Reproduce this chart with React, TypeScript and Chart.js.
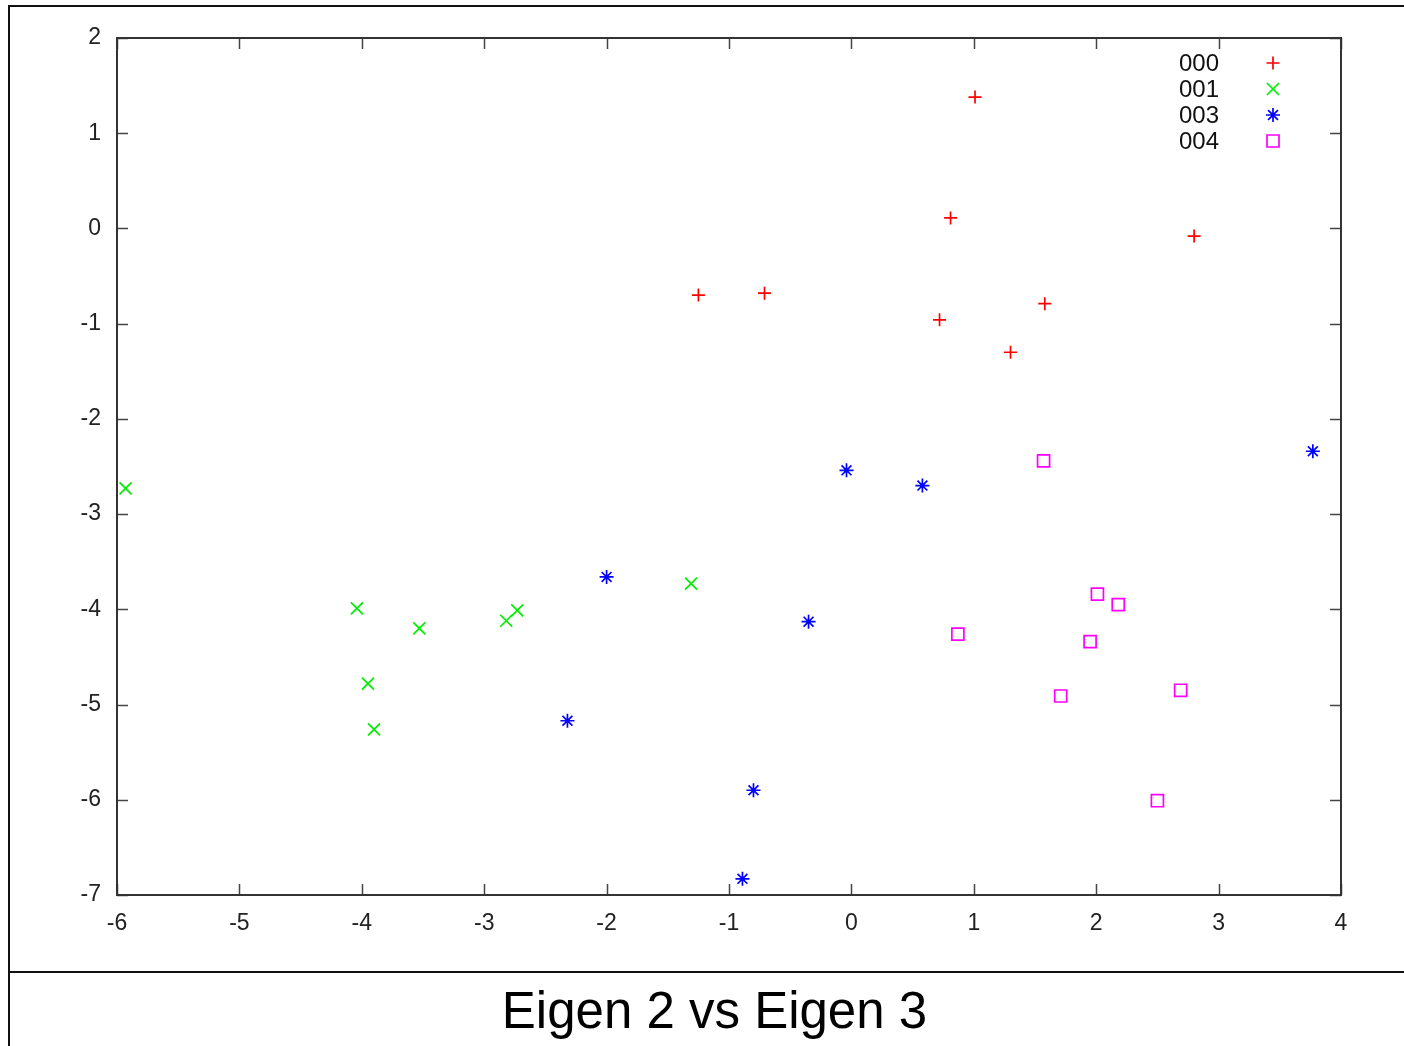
import React, { useEffect, useRef } from 'react';
import { Chart, registerables } from 'chart.js';
import { drawPoint } from 'chart.js/helpers';

Chart.register(...registerables);

const SERIES_LABELS = ['000', '001', '003', '004'];
const s000X = [1.01, 0.81, 2.8, -1.25, -0.71, 0.72, 1.58, 1.3];
const s000Y = [1.38, 0.11, -0.08, -0.7, -0.68, -0.96, -0.79, -1.3];
const s001X = [-5.93, -4.04, -3.95, -3.9, -3.53, -2.82, -2.73, -1.31];
const s001Y = [-2.73, -3.99, -4.78, -5.26, -4.2, -4.12, -4.01, -3.73];
const s003X = [3.77, -0.04, 0.58, -2.0, -0.35, -2.32, -0.8, -0.89];
const s003Y = [-2.34, -2.54, -2.7, -3.66, -4.13, -5.17, -5.9, -6.83];
const s004X = [1.57, 2.01, 2.18, 0.87, 1.95, 1.71, 2.69, 2.5];
const s004Y = [-2.44, -3.84, -3.95, -4.26, -4.34, -4.91, -4.85, -6.01];
const X_TICKS = [-6, -5, -4, -3, -2, -1, 0, 1, 2, 3, 4];
const Y_TICKS = [-7, -6, -5, -4, -3, -2, -1, 0, 1, 2];
const TITLE = 'Eigen 2 vs Eigen 3';

const COLORS = ['#ff0000', '#00ee00', '#0000ff', '#ff00ff'];
const STYLES = ['cross', 'crossRot', 'star', 'rect'];
const RADII = [6.5, 8.5, 7, 8.5];

const toPts = (xs: number[], ys: number[]) => xs.map((x, i) => ({ x, y: ys[i] }));

const framePlugin = {
  id: 'gnuplotFrame',
  afterDraw(chart: any) {
    const { ctx, chartArea, scales } = chart;
    const { left, right, top, bottom } = chartArea;
    ctx.save();
    ctx.strokeStyle = '#444';
    ctx.lineWidth = 1.5;
    const tl = 11;
    ctx.beginPath();
    X_TICKS.forEach((v) => {
      const px = Math.round(scales.x.getPixelForValue(v)) + 0.5;
      ctx.moveTo(px, bottom);
      ctx.lineTo(px, bottom - tl);
      ctx.moveTo(px, top);
      ctx.lineTo(px, top + tl);
    });
    Y_TICKS.forEach((v) => {
      const py = Math.round(scales.y.getPixelForValue(v)) + 0.5;
      ctx.moveTo(left, py);
      ctx.lineTo(left + tl, py);
      ctx.moveTo(right, py);
      ctx.lineTo(right - tl, py);
    });
    ctx.stroke();
    ctx.strokeStyle = '#333';
    ctx.lineWidth = 2;
    ctx.strokeRect(left, top, right - left, bottom - top);
    ctx.font = '24px "Liberation Sans", Arial, sans-serif';
    ctx.textAlign = 'right';
    ctx.textBaseline = 'middle';
    chart.data.datasets.forEach((ds: any, i: number) => {
      const y = 63 + 26 * i;
      ctx.fillStyle = '#111';
      ctx.fillText(ds.label, 1219, y + 1);
      ctx.strokeStyle = ds.borderColor;
      ctx.fillStyle = 'rgba(0,0,0,0)';
      ctx.lineWidth = ds.pointBorderWidth;
      drawPoint(ctx, { pointStyle: ds.pointStyle, radius: ds.pointRadius, borderWidth: ds.pointBorderWidth, rotation: 0 }, 1273, y);
    });
    ctx.restore();
  },
};

export default function App() {
  const ref = useRef<HTMLCanvasElement | null>(null);
  useEffect(() => {
    if (!ref.current) return;
    const series = [toPts(s000X, s000Y), toPts(s001X, s001Y), toPts(s003X, s003Y), toPts(s004X, s004Y)];
    const tickFont = { family: '"Liberation Sans", Arial, sans-serif', size: 23 };
    const chart = new Chart(ref.current, {
      type: 'scatter',
      data: {
        datasets: series.map((data, i) => ({
          label: SERIES_LABELS[i],
          data,
          borderColor: COLORS[i],
          backgroundColor: 'rgba(0,0,0,0)',
          pointStyle: STYLES[i] as any,
          pointRadius: RADII[i],
          pointBorderWidth: 1.7,
          pointBackgroundColor: 'rgba(0,0,0,0)',
          pointBorderColor: COLORS[i],
        })),
      },
      options: {
        animation: false,
        responsive: false,
        events: [],
        layout: { padding: { top: 38, right: 63, left: 0, bottom: 0 } },
        plugins: { legend: { display: false }, tooltip: { enabled: false }, title: { display: false } },
        scales: {
          x: {
            type: 'linear',
            min: -6,
            max: 4,
            afterBuildTicks: (s: any) => { s.ticks = X_TICKS.map((v) => ({ value: v })); },
            afterFit: (s: any) => { s.height = 73; },
            grid: { display: false, drawTicks: false },
            border: { display: false },
            ticks: { font: tickFont, color: '#222', padding: 15, maxRotation: 0, autoSkip: false, callback: (v: any) => String(v) },
          },
          y: {
            type: 'linear',
            min: -7,
            max: 2,
            afterBuildTicks: (s: any) => { s.ticks = Y_TICKS.map((v) => ({ value: v })); },
            afterFit: (s: any) => { s.width = 117; },
            grid: { display: false, drawTicks: false },
            border: { display: false },
            ticks: { font: tickFont, color: '#222', padding: 16, autoSkip: false, callback: (v: any) => String(v) },
          },
        },
      },
      plugins: [framePlugin],
    });
    return () => chart.destroy();
  }, []);

  return (
    <div>
      <canvas ref={ref} width={1404} height={968} style={{ position: 'absolute', left: 0, top: 0, width: 1404, height: 968 }} />
      <div style={{ position: 'absolute', left: 8, top: 5, width: 1430, height: 2, background: '#111' }} />
      <div style={{ position: 'absolute', left: 8, top: 5, width: 2, height: 1060, background: '#111' }} />
      <div style={{ position: 'absolute', left: 8, top: 971, width: 1430, height: 2, background: '#111' }} />
      <div style={{ position: 'absolute', left: 0, top: 986, width: 1429, textAlign: 'center', fontFamily: '"Liberation Sans", Arial, sans-serif', fontSize: 51, lineHeight: '50px', color: '#000' }}>{TITLE}</div>
    </div>
  );
}
